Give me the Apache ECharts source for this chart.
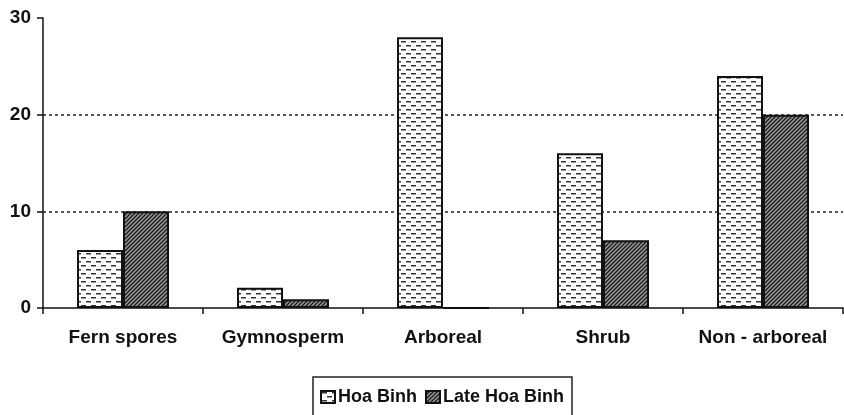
<!DOCTYPE html>
<html>
<head>
<meta charset="utf-8">
<script src="https://cdn.jsdelivr.net/npm/echarts@6/dist/echarts.min.js"></script>
<style>
  html, body { margin: 0; padding: 0; background: #fff; }
  #chart { width: 844px; height: 415px; }
</style>
</head>
<body>
<div id="chart"></div>
<script>
const categories = ['Fern spores', 'Gymnosperm', 'Arboreal', 'Shrub', 'Non - arboreal']
const hoaBinh = [6, 2.1, 28, 16, 24]
const lateHoaBinh = [10, 0.9, 0, 7, 20]
const yTicks = [0, 10, 20, 30]

// dashed "brick" fill
function dashTile() {
  const c = document.createElement('canvas')
  c.width = 10
  c.height = 8
  const g = c.getContext('2d')
  g.fillStyle = '#fff'
  g.fillRect(0, 0, 10, 8)
  g.fillStyle = '#d8d8d8'
  g.fillRect(8, 2, 1, 1)
  g.fillRect(3, 6, 1, 1)
  g.fillStyle = '#333'
  g.fillRect(1, 1, 5, 1.5)
  g.fillRect(6, 5, 4, 1.5)
  g.fillRect(0, 5, 1, 1.5)
  return c
}

// diagonal hatch
function hatchTile() {
  const c = document.createElement('canvas')
  c.width = 4
  c.height = 4
  const g = c.getContext('2d')
  g.fillStyle = '#9a9a9a'
  g.fillRect(0, 0, 4, 4)
  g.strokeStyle = '#1a1a1a'
  g.lineWidth = 1.3
  g.beginPath()
  g.moveTo(-1, 5); g.lineTo(5, -1)
  g.moveTo(-1, 1); g.lineTo(1, -1)
  g.moveTo(3, 5); g.lineTo(5, 3)
  g.stroke()
  return c
}

const font = 'Liberation Sans, Arial, sans-serif'

const myChart = echarts.init(document.getElementById('chart'))
myChart.setOption({
  animation: false,
  grid: { left: 43, right: 1, top: 18, bottom: 107, containLabel: false },
  legend: {
    left: 313,
    top: 377,
    padding: [11, 8, 30, 7],
    borderColor: '#222',
    borderWidth: 1.5,
    itemWidth: 14,
    itemHeight: 12,
    itemGap: 8,
    icon: 'rect',
    textStyle: { fontFamily: font, fontWeight: 'bold', fontSize: 18, color: '#111', padding: [0, 0, 0, -2] },
    data: ['Hoa Binh', 'Late Hoa Binh']
  },
  xAxis: {
    type: 'category',
    data: categories,
    axisLine: { lineStyle: { color: '#111', width: 1.5 } },
    axisTick: { show: true, interval: 0, length: 6, lineStyle: { color: '#111', width: 1.5 } },
    axisLabel: { interval: 0, fontFamily: font, fontWeight: 'bold', fontSize: 19, color: '#111', margin: 20 }
  },
  yAxis: {
    type: 'value',
    min: yTicks[0],
    max: yTicks[yTicks.length - 1],
    interval: 10,
    axisLine: { show: true, lineStyle: { color: '#111', width: 1.5 } },
    axisTick: { show: true, length: 6, lineStyle: { color: '#111', width: 1.5 } },
    axisLabel: { fontFamily: font, fontWeight: 'bold', fontSize: 19, color: '#111', margin: 12 },
    splitLine: {
      show: true,
      lineStyle: { color: ['transparent', '#222', '#222', 'transparent'], type: [3, 3], width: 1.5 }
    }
  },
  series: [
    {
      name: 'Hoa Binh',
      type: 'bar',
      data: hoaBinh,
      barWidth: 46,
      barGap: '0%',
      itemStyle: { color: { image: dashTile(), repeat: 'repeat' }, borderColor: '#111', borderWidth: 2 }
    },
    {
      name: 'Late Hoa Binh',
      type: 'bar',
      data: lateHoaBinh,
      barWidth: 46,
      itemStyle: { color: { image: hatchTile(), repeat: 'repeat' }, borderColor: '#111', borderWidth: 2 }
    }
  ]
})
</script>
</body>
</html>
